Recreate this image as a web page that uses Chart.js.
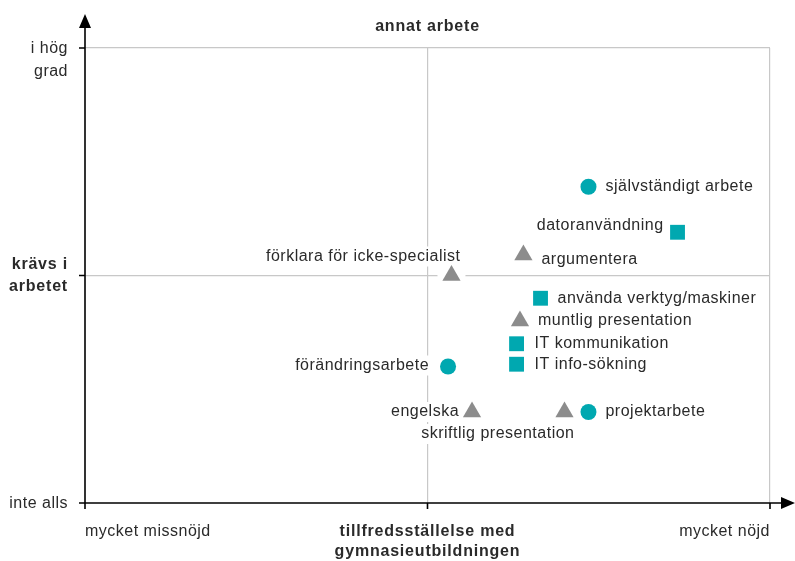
<!DOCTYPE html>
<html>
<head>
<meta charset="utf-8">
<script src="https://cdn.jsdelivr.net/npm/chart.js@4"></script>
<style>
  html, body { margin: 0; padding: 0; background: #fff; }
  #wrap { width: 795px; height: 561px; }
</style>
</head>
<body>
<div id="wrap"><canvas id="myChart"></canvas></div>
<script>
// skills: satisfaction (x, 0..2) vs. required at work (y, 0..2)
var circleNames = ['självständigt arbete', 'förändringsarbete', 'projektarbete'];
var circleX = [1.47, 1.06, 1.47];
var circleY = [1.39, 0.60, 0.40];

var squareNames = ['datoranvändning', 'använda verktyg/maskiner', 'IT kommunikation', 'IT info-sökning'];
var squareX = [1.73, 1.33, 1.26, 1.26];
var squareY = [1.19, 0.90, 0.70, 0.61];

var triangleNames = ['argumentera', 'förklara för icke-specialist', 'muntlig presentation', 'engelska', 'skriftlig presentation'];
var triangleX = [1.28, 1.07, 1.27, 1.13, 1.40];
var triangleY = [1.09, 1.00, 0.80, 0.40, 0.40];

var xTickLabels = ['mycket missnöjd', 'tillfredsställelse med|gymnasieutbildningen', 'mycket nöjd'];
var yTickLabels = ['inte alls', 'krävs i|arbetet', 'i hög|grad'];
var topLabel = 'annat arbete';

// where each label sits relative to its marker [dx, dy, align]
var labelPlace = {
    'självständigt arbete': [17, 0, 'left'],
    'förändringsarbete': [-19, -1, 'right'],
    'projektarbete': [17, 0, 'left'],
    'datoranvändning': [-14, -7, 'right'],
    'använda verktyg/maskiner': [17, 0, 'left'],
    'IT kommunikation': [18, 0, 'left'],
    'IT info-sökning': [18, 0, 'left'],
    'argumentera': [18, 5, 'left'],
    'förklara för icke-specialist': [9, -19, 'right'],
    'muntlig presentation': [18, 0, 'left'],
    'engelska': [-13, 0, 'right'],
    'skriftlig presentation': [10, 22, 'right']
};

var TEAL = 'rgb(0, 168, 176)';
var GREY = 'rgb(140, 140, 140)';
var FONT = '"Liberation Sans", Arial, sans-serif';
var TXT = '#2a2a2a';

function pts(xs, ys, names) {
    return xs.map(function(x, i) { return {x: x, y: ys[i], name: names[i]}; });
}

function setFont(ctx, bold) {
    ctx.font = (bold ? 'bold ' : '') + '16px ' + FONT;
    ctx.letterSpacing = bold ? '0.8px' : '0.5px';
}

var quadPlugin = {
    id: 'quad',
    beforeDatasetsDraw: function(chart) {
        var ctx = chart.ctx;
        ctx.save();
        setFont(ctx, false);
        ctx.textBaseline = 'middle';
        chart.data.datasets.forEach(function(ds, di) {
            var meta = chart.getDatasetMeta(di);
            meta.data.forEach(function(el, i) {
                var p = ds.data[i];
                // white halo behind marker
                ctx.fillStyle = '#fff';
                ctx.beginPath();
                ctx.arc(el.x, el.y, 14, 0, Math.PI * 2);
                ctx.fill();
                var pl = labelPlace[p.name];
                var tx = el.x + pl[0], ty = el.y + pl[1];
                var w = ctx.measureText(p.name).width;
                var left = pl[2] === 'left' ? tx : tx - w;
                ctx.fillStyle = '#fff';
                ctx.fillRect(left - 4, ty - 10, w + 8, 20);
                ctx.fillStyle = TXT;
                ctx.textAlign = pl[2];
                ctx.fillText(p.name, tx, ty);
            });
        });
        ctx.restore();
    },
    afterDraw: function(chart) {
        var ctx = chart.ctx;
        var xs = chart.scales.x, ys = chart.scales.y;
        var x0 = xs.getPixelForValue(0), y0 = ys.getPixelForValue(0);
        var top = 14, right = 795;
        ctx.save();
        ctx.strokeStyle = '#000';
        ctx.fillStyle = '#000';
        ctx.lineWidth = 1.6;
        ctx.beginPath();
        ctx.moveTo(x0, y0); ctx.lineTo(x0, top + 8);
        ctx.moveTo(x0, y0); ctx.lineTo(right - 8, y0);
        // tick marks
        [0, 1, 2].forEach(function(v) {
            var py = ys.getPixelForValue(v);
            ctx.moveTo(x0 - 6, py); ctx.lineTo(x0, py);
            var px = xs.getPixelForValue(v);
            ctx.moveTo(px, y0); ctx.lineTo(px, y0 + 6);
        });
        ctx.stroke();
        // arrows
        ctx.beginPath();
        ctx.moveTo(x0, top); ctx.lineTo(x0 - 6, top + 14); ctx.lineTo(x0 + 6, top + 14); ctx.closePath();
        ctx.moveTo(right, y0); ctx.lineTo(right - 14, y0 - 6); ctx.lineTo(right - 14, y0 + 6); ctx.closePath();
        ctx.fill();

        ctx.fillStyle = TXT;
        ctx.textBaseline = 'middle';
        // y labels
        yTickLabels.forEach(function(lab, i) {
            var py = ys.getPixelForValue(i);
            var lines = lab.split('|');
            setFont(ctx, i === 1);
            ctx.textAlign = 'right';
            if (i === 1) {
                ctx.fillText(lines[0], 68, py - 11);
                ctx.fillText(lines[1], 68, py + 11);
            } else {
                lines.forEach(function(l, k) { ctx.fillText(l, 68, py + 1 + k * 23); });
            }
        });
        // x labels
        xTickLabels.forEach(function(lab, i) {
            var px = xs.getPixelForValue(i);
            var lines = lab.split('|');
            setFont(ctx, i === 1);
            ctx.textAlign = i === 0 ? 'left' : (i === 1 ? 'center' : 'right');
            lines.forEach(function(l, k) { ctx.fillText(l, px, y0 + 29 + k * 20); });
        });
        setFont(ctx, true);
        ctx.textAlign = 'center';
        ctx.fillText(topLabel, xs.getPixelForValue(1), 27);
        ctx.restore();
    }
};

var ctx = document.getElementById('myChart').getContext('2d');
var chart = new Chart(ctx, {
    type: 'scatter',
    data: {
        datasets: [{
            data: pts(circleX, circleY, circleNames),
            pointStyle: 'circle',
            pointRadius: 8,
            backgroundColor: TEAL,
            borderWidth: 0
        },
        {
            data: pts(squareX, squareY, squareNames),
            pointStyle: 'rect',
            pointRadius: 10.5,
            backgroundColor: TEAL,
            borderWidth: 0
        },
        {
            data: pts(triangleX, triangleY, triangleNames),
            pointStyle: 'triangle',
            pointRadius: 10.5,
            backgroundColor: GREY,
            borderWidth: 0
        }]
    },
    options: {
        responsive: true,
        maintainAspectRatio: false,
        animation: false,
        layout: {padding: {left: 85, top: 48, right: 25, bottom: 58}},
        plugins: {legend: {display: false}, tooltip: {enabled: false}},
        scales: {
            x: {
                min: 0, max: 2,
                afterBuildTicks: function(s) { s.ticks = [{value: 0}, {value: 1}, {value: 2}]; },
                ticks: {display: false},
                border: {display: false},
                grid: {
                    drawTicks: false,
                    color: function(c) { return c.tick && c.tick.value === 0 ? 'rgba(0,0,0,0)' : '#c8c8c8'; },
                    lineWidth: 1.2
                }
            },
            y: {
                min: 0, max: 2,
                afterBuildTicks: function(s) { s.ticks = [{value: 0}, {value: 1}, {value: 2}]; },
                ticks: {display: false},
                border: {display: false},
                grid: {
                    drawTicks: false,
                    color: function(c) { return c.tick && c.tick.value === 0 ? 'rgba(0,0,0,0)' : '#c8c8c8'; },
                    lineWidth: 1.2
                }
            }
        }
    },
    plugins: [quadPlugin]
});
</script>
</body>
</html>
